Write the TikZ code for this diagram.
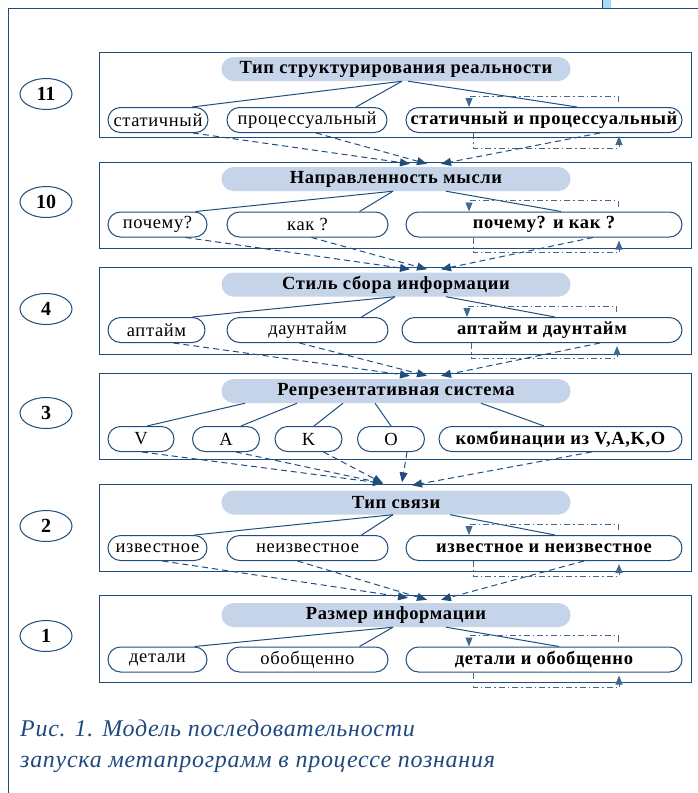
\documentclass[tikz,border=0pt]{standalone}
\usepackage{fontspec}
\setmainfont{Liberation Serif}
\usetikzlibrary{arrows.meta,calc,shapes.geometric}

\definecolor{navy}{RGB}{31,78,125}
\definecolor{pillblue}{RGB}{197,212,232}
\definecolor{capblue}{RGB}{31,73,125}
\definecolor{tabblue}{RGB}{170,218,245}

\newcommand\boxfont{\fontsize{18.5}{20}\selectfont\addfontfeature{LetterSpace=3.5}}

\tikzset{
  frameline/.style={draw=navy, line width=1pt},
  panel/.style={draw=navy, line width=1pt, minimum width=592pt, inner sep=0pt},
  pill/.style={fill=pillblue, rounded corners=12pt, minimum width=349pt,
    minimum height=24pt, inner sep=0pt, font=\boxfont\bfseries},
  opt/.style={draw=navy, line width=1pt, fill=white, rounded corners=12.5pt,
    minimum height=25pt, inner sep=0pt, font=\boxfont},
  optb/.style={opt, font=\boxfont\bfseries},
  num/.style={ellipse, draw=navy, line width=1pt, minimum width=52pt,
    minimum height=31pt, inner sep=0pt, font=\fontsize{20}{22}\selectfont\bfseries},
  link/.style={draw=navy, line width=1pt},
  flow/.style={draw=navy, line width=1pt, dash pattern=on 6pt off 4pt,
    -{Triangle[length=10pt,width=8pt]}},
  loopln/.style={draw=navy!85, line width=0.9pt,
    dash pattern=on 6pt off 3pt on 1.5pt off 3pt,
    -{Triangle[length=9pt,width=7pt]}},
  caption/.style={text=capblue, anchor=base west, inner sep=0pt,
    font=\fontsize{24}{27}\selectfont\itshape\addfontfeature{LetterSpace=3}}
}

% the two dash-dot feedback loops round a combined option
\newcommand\comboloops[1]{%
  \draw[loopln] ([xshift=74pt,yshift=5pt]#1.north) -- ++(0,-6)
    -| ([xshift=-75pt]#1.north);
  \draw[loopln] ([xshift=-71pt]#1.south) -- ++(0,15)
    -| ([xshift=75pt,yshift=-3pt]#1.south);
}

\begin{document}
\begin{tikzpicture}[x=1pt,y=-1pt]
\useasboundingbox (0,0) rectangle (698,793);

% page frame
\draw[frameline] (8,793) -- (8,8) -- (698,8);
\fill[tabblue] (603,0) rectangle (611,8);
\draw[navy, line width=1pt] (602,0) -- (602,8);

% level numbers
\node[num] (n11) at (46,94)  {11};
\node[num] (n10) at (46,202) {10};
\node[num] (n4)  at (46,309) {4};
\node[num] (n3)  at (46,413) {3};
\node[num] (n2)  at (46,526) {2};
\node[num] (n1)  at (46,636) {1};

% panels
\node[panel, minimum height=85pt] (b11) at (395,94.5)  {};
\node[panel, minimum height=86pt] (b10) at (395,205)   {};
\node[panel, minimum height=87pt] (b4)  at (395,310.5) {};
\node[panel, minimum height=86pt] (b3)  at (395,416)   {};
\node[panel, minimum height=87pt] (b2)  at (395,527.5) {};
\node[panel, minimum height=87pt] (b1)  at (395,638.5) {};

% level 11
\node[pill] (p11) at (396,69) {Тип структурирования реальности};
\node[opt, minimum width=100pt] (s11a) at (158,120) {статичный};
\node[opt, minimum width=160pt] (s11b) at (307,120) {процессуальный};
\node[optb, minimum width=276pt] (s11c) at (544,120) {статичный и процессуальный};

% level 10
\node[pill] (p10) at (396,179) {Направленность мысли};
\node[opt, minimum width=99pt] (s10a) at (157.5,224.5) {почему?};
\node[opt, minimum width=161pt] (s10b) at (307.5,224.5) {как ?};
\node[optb, minimum width=276pt] (s10c) at (544,224.5) {почему? и как ?};

% level 4
\node[pill] (p4) at (396,284.5) {Стиль сбора информации};
\node[opt, minimum width=97pt] (s4a) at (156.5,330) {аптайм};
\node[opt, minimum width=161pt] (s4b) at (307.5,330) {даунтайм};
\node[optb, minimum width=280pt] (s4c) at (542,330) {аптайм и даунтайм};

% level 3
\node[pill] (p3) at (396,391) {Репрезентативная система};
\node[opt, minimum width=66pt] (s3v) at (141,439) {V};
\node[opt, minimum width=67pt] (s3a) at (226,439) {A};
\node[opt, minimum width=67pt] (s3k) at (308.5,439) {K};
\node[opt, minimum width=67pt] (s3o) at (391,439) {O};
\node[optb, minimum width=243pt] (s3c) at (560.5,439) {комбинации из V,A,K,O};

% level 2
\node[pill] (p2) at (396,502.5) {Тип связи};
\node[opt, minimum width=99pt] (s2a) at (157.5,548) {известное};
\node[opt, minimum width=161pt] (s2b) at (307.5,548) {неизвестное};
\node[optb, minimum width=276pt] (s2c) at (544,548) {известное и неизвестное};

% level 1
\node[pill] (p1) at (396,615) {Размер информации};
\node[opt, minimum width=99pt] (s1a) at (157.5,659.5) {детали};
\node[opt, minimum width=161pt] (s1b) at (307.5,659.5) {обобщенно};
\node[optb, minimum width=276pt] (s1c) at (544,659.5) {детали и обобщенно};

% heading-to-option links
\draw[link] ([xshift=6pt]p11.south) -- ([xshift=34pt]s11a.north);
\draw[link] ([xshift=6pt]p11.south) -- ([xshift=49pt]s11b.north);
\draw[link] ([xshift=12pt]p11.south) -- ([xshift=33pt]s11c.north);

\draw[link] ([xshift=-3pt]p10.south) -- ([xshift=38pt]s10a.north);
\draw[link] ([xshift=-3pt]p10.south) -- ([xshift=52pt]s10b.north);
\draw[link] ([xshift=50pt]p10.south) -- ([xshift=17pt]s10c.north);

\draw[link] ([xshift=-1pt]p4.south) -- ([xshift=36pt]s4a.north);
\draw[link] ([xshift=-1pt]p4.south) -- ([xshift=54pt]s4b.north);
\draw[link] ([xshift=50pt]p4.south) -- ([xshift=13pt]s4c.north);

\draw[link] ([xshift=-151pt]p3.south) -- ([xshift=6pt]s3v.north);
\draw[link] ([xshift=-99pt]p3.south) -- ([xshift=15pt]s3a.north);
\draw[link] ([xshift=-53pt]p3.south) -- ([xshift=5.5pt]s3k.north);
\draw[link] ([xshift=-21pt]p3.south) -- (s3o.north);
\draw[link] ([xshift=85pt]p3.south) -- ([xshift=-16.5pt]s3c.north);

\draw[link] ([xshift=-3pt]p2.south) -- ([xshift=37pt]s2a.north);
\draw[link] ([xshift=-3pt]p2.south) -- ([xshift=54pt]s2b.north);
\draw[link] ([xshift=54pt]p2.south) -- ([xshift=11pt]s2c.north);

\draw[link] ([xshift=-3pt]p1.south) -- ([xshift=37pt]s1a.north);
\draw[link] ([xshift=-3pt]p1.south) -- ([xshift=52pt]s1b.north);
\draw[link] ([xshift=50pt]p1.south) -- ([xshift=15pt]s1c.north);

% feedback loops round the combined options
\comboloops{s11c}
\comboloops{s10c}
\comboloops{s4c}
\comboloops{s2c}
\comboloops{s1c}

% transitions to the next level
\draw[flow] ([xshift=35pt]s11a.south) -- ([xshift=14pt,yshift=3pt]p10.north);
\draw[flow] ([xshift=9pt]s11b.south)  -- ([xshift=31pt,yshift=3pt]p10.north);
\draw[flow] ([xshift=56pt]s11c.south) -- ([xshift=45pt,yshift=3pt]p10.north);

\draw[flow] ([xshift=28pt]s10a.south) -- ([xshift=14pt,yshift=3pt]p4.north);
\draw[flow] ([xshift=4pt]s10b.south)  -- ([xshift=31pt,yshift=3pt]p4.north);
\draw[flow] ([xshift=49pt]s10c.south) -- ([xshift=45pt,yshift=3pt]p4.north);

\draw[flow] ([xshift=17pt]s4a.south) -- ([xshift=14pt,yshift=3pt]p3.north);
\draw[flow] ([xshift=-8pt]s4b.south) -- ([xshift=31pt,yshift=3pt]p3.north);
\draw[flow] ([xshift=58pt]s4c.south) -- ([xshift=45pt,yshift=3pt]p3.north);

\draw[flow] ([xshift=1pt]s3v.south)  -- ([xshift=-13pt,yshift=7pt]p2.north);
\draw[flow] ([xshift=10pt]s3a.south) -- ([xshift=-13pt,yshift=7pt]p2.north);
\draw[flow] ([xshift=15pt]s3k.south) -- ([xshift=-13pt,yshift=7pt]p2.north);
\draw[flow] ([xshift=16pt]s3o.south) -- ([xshift=6pt,yshift=8pt]p2.north);
\draw[flow] ([xshift=31pt]s3c.south) -- ([xshift=16pt,yshift=5pt]p2.north);

\draw[flow] ([xshift=5pt]s2a.south)   -- ([xshift=12pt,yshift=5pt]p1.north);
\draw[flow] ([xshift=-10pt]s2b.south) -- ([xshift=31pt,yshift=3pt]p1.north);
\draw[flow] ([xshift=40pt]s2c.south)  -- ([xshift=45pt,yshift=3pt]p1.north);

% caption
\node[caption] (cap1) at (20,736) {Рис. 1. Модель последовательности};
\node[caption] (cap2) at (20,767) {запуска метапрограмм в процессе познания};
\end{tikzpicture}
\end{document}
